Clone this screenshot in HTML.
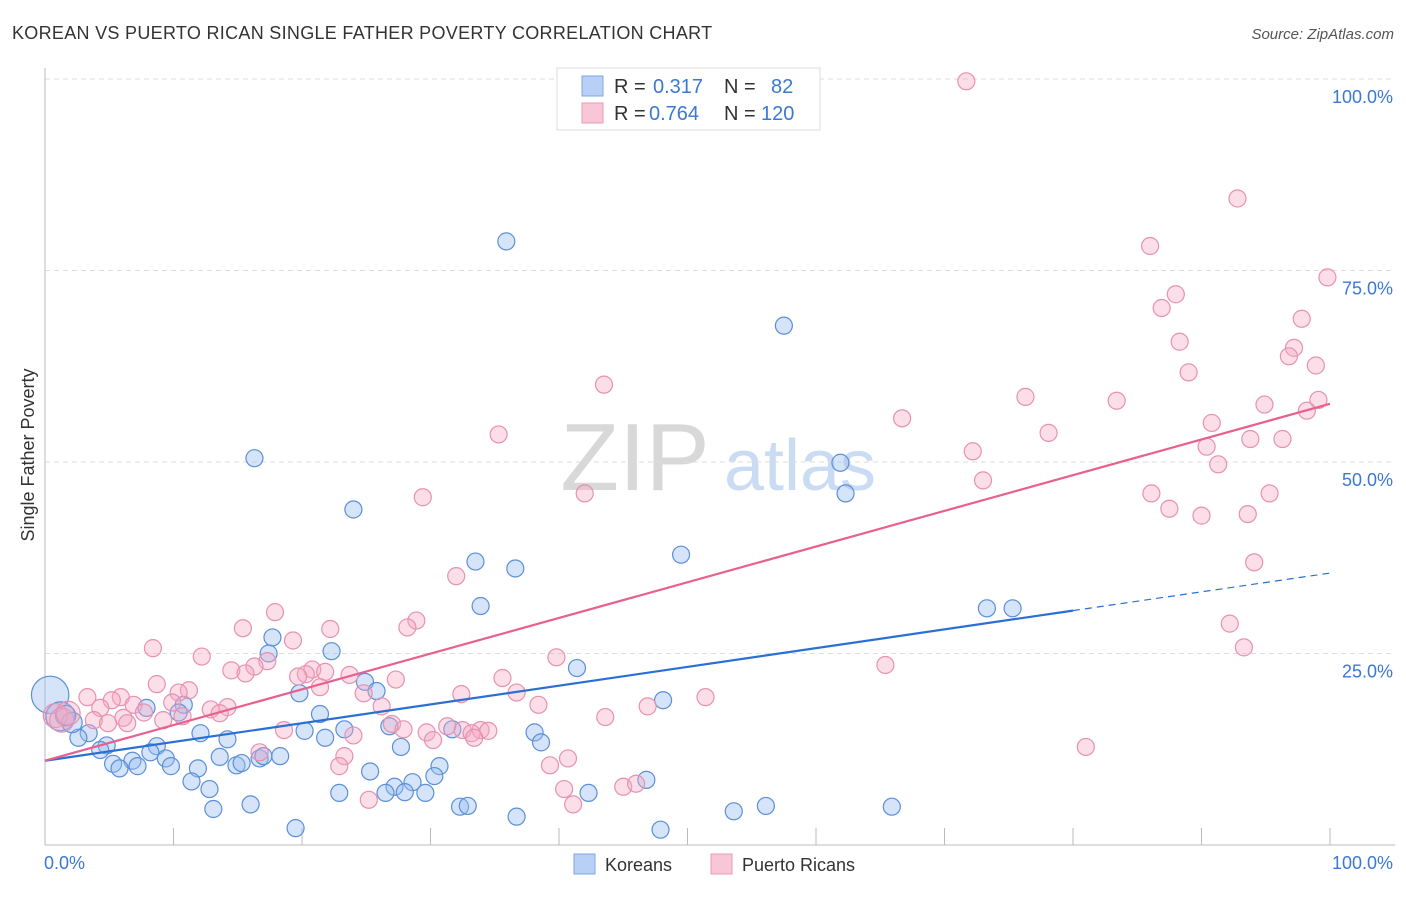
<!DOCTYPE html>
<html><head><meta charset="utf-8"><style>
body{margin:0;background:#fff;font-family:"Liberation Sans",sans-serif;}
svg text{font-family:"Liberation Sans",sans-serif;}
</style></head><body>
<svg id="chart" width="1406" height="892" xmlns="http://www.w3.org/2000/svg">
<text x="12" y="39" font-size="18" fill="#333" letter-spacing="0.3">KOREAN VS PUERTO RICAN SINGLE FATHER POVERTY CORRELATION CHART</text>
<text x="1394" y="39" font-size="15" fill="#555" font-style="italic" text-anchor="end">Source: ZipAtlas.com</text>
<g>
<text x="635" y="490" font-size="96" fill="#d8d8d8" font-family="Liberation Serif" text-anchor="middle">ZIP</text>
<text x="800" y="490" font-size="72" fill="#c9dcf3" text-anchor="middle">atlas</text>
</g>
<g id="grid"></g>
<g id="axes"></g>
<text transform="translate(34,455) rotate(-90)" font-size="18" fill="#333" text-anchor="middle">Single Father Poverty</text>
<g id="pts"></g>
<g id="lines"></g>
<g>
<rect x="557" y="68" width="263" height="62" fill="#fff" stroke="#ddd"/>
<rect x="582" y="76" width="21" height="20" fill="#b8d0f5" stroke="#7ea6e3"/>
<rect x="582" y="103" width="21" height="20" fill="#f8c6d6" stroke="#eb9ab5"/>
<text x="614" y="93" font-size="20" fill="#333">R = </text><text x="653" y="93" font-size="20" fill="#3a78d4">0.317</text>
<text x="724" y="93" font-size="20" fill="#333">N = </text><text x="771" y="93" font-size="20" fill="#3a78d4">82</text>
<text x="614" y="120" font-size="20" fill="#333">R = </text><text x="649" y="120" font-size="20" fill="#3a78d4">0.764</text>
<text x="724" y="120" font-size="20" fill="#333">N = </text><text x="761" y="120" font-size="20" fill="#3a78d4">120</text>
</g>
<g>
<rect x="574" y="854" width="21" height="20" fill="#b8d0f5" stroke="#7ea6e3"/>
<text x="605" y="871" font-size="18" fill="#333">Koreans</text>
<rect x="711" y="854" width="21" height="20" fill="#f8c6d6" stroke="#eb9ab5"/>
<text x="742" y="871" font-size="18" fill="#333">Puerto Ricans</text>
</g>
</svg>
<script>
const yTicks=[25,50,75,100];
const yTickLabels=["25.0%","50.0%","75.0%","100.0%"];
const xTicks=[10,20,30,40,50,60,70,80,90,100];
const koreanX=[35.9,57.5,16.3,61.9,62.3,24.0,33.5,36.6,49.5,33.9,73.3,75.3,17.7,17.4,22.3,41.4,24.9,25.8,19.8,48.1,10.8,7.9,21.4,10.4,26.8,31.7,20.2,23.3,38.1,12.1,21.8,14.2,3.4,2.6,4.8,8.7,38.6,27.7,4.3,8.2,9.4,13.6,16.7,18.3,6.8,5.3,5.8,7.2,9.8,11.9,14.9,15.3,17.0,30.7,25.3,30.3,46.8,11.4,28.6,27.2,26.5,28.0,29.6,22.9,12.8,42.3,16.0,13.1,32.3,32.9,53.6,56.1,65.9,36.7,19.5,47.9,0.4,1.2,2.1,1.6];
const koreanY=[78.8,67.8,50.5,49.9,45.9,43.8,37.0,36.1,37.9,31.2,30.9,30.9,27.1,25.0,25.3,23.1,21.3,20.1,19.8,18.9,18.3,17.9,17.1,17.3,15.5,15.1,14.9,15.1,14.7,14.6,14.0,13.8,14.6,14.0,13.0,12.9,13.4,12.8,12.4,12.1,11.3,11.5,11.3,11.6,11.0,10.6,10.0,10.3,10.3,10.0,10.4,10.7,11.6,10.3,9.6,9.0,8.5,8.3,8.2,7.6,6.8,6.9,6.8,6.8,7.3,6.8,5.3,4.7,5.0,5.1,4.4,5.1,5.0,3.7,2.2,2.0,19.6,16.8,16.0,16.9];
const koreanSize=[1,1,1,1,1,1,1,1,1,1,1,1,1,1,1,1,1,1,1,1,1,1,1,1,1,1,1,1,1,1,1,1,1,1,1,1,1,1,1,1,1,1,1,1,1,1,1,1,1,1,1,1,1,1,1,1,1,1,1,1,1,1,1,1,1,1,1,1,1,1,1,1,1,1,1,1,2.2,1.7,1.2,1.2];
const prX=[71.7,92.8,86.0,99.8,88.0,86.9,97.8,88.3,97.2,96.8,98.9,89.0,43.5,76.3,83.4,99.1,94.9,98.2,66.7,90.8,78.1,35.3,93.8,96.3,90.4,72.2,91.3,73.0,42.0,29.4,86.1,95.3,87.5,90.0,93.6,94.1,32.0,17.9,28.9,28.2,92.2,15.4,22.2,19.3,93.3,8.4,12.2,39.8,17.3,65.4,16.3,20.8,14.5,15.6,21.8,20.3,23.7,19.7,35.6,27.3,8.7,21.4,11.2,10.4,24.8,32.4,36.7,3.3,51.4,5.9,5.2,9.9,6.9,4.3,14.2,38.4,46.9,26.2,7.7,12.9,13.6,10.7,6.1,9.2,43.6,3.8,4.9,6.4,27.0,27.9,31.3,32.5,29.7,33.9,34.5,18.6,33.2,33.4,30.2,24.0,23.3,16.7,40.7,81.0,22.9,39.3,40.4,45.0,46.0,25.2,41.1,0.8,1.3,1.8];
const prY=[99.7,84.4,78.2,74.1,71.9,70.1,68.7,65.7,64.9,63.8,62.6,61.7,60.1,58.5,58.0,58.1,57.5,56.7,55.7,55.1,53.8,53.6,53.0,53.0,52.0,51.4,49.7,47.6,45.9,45.4,45.9,45.9,43.9,43.0,43.2,36.9,35.1,30.4,29.3,28.4,28.9,28.3,28.2,26.7,25.8,25.7,24.6,24.5,24.0,23.5,23.3,22.9,22.8,22.4,22.6,22.3,22.2,22.0,21.8,21.6,21.0,20.6,20.2,19.9,19.8,19.7,19.9,19.3,19.3,19.3,18.9,18.6,18.3,17.9,18.0,18.3,18.1,18.1,17.3,17.7,17.2,16.8,16.6,16.3,16.7,16.3,15.9,15.9,15.8,15.1,15.5,15.0,14.7,15.0,14.9,15.0,14.6,14.0,13.7,14.3,11.6,12.1,11.3,12.8,10.3,10.4,7.3,7.6,8.0,5.9,5.3,16.9,16.3,17.2];
const koreanFit=[11.0,0.245];
const prFit=[11.0,0.466];
const solidEnd=80;

const NS="http://www.w3.org/2000/svg";
const X0=45,X1=1330,Y0=845,Y100=79;
const sx=v=>X0+(X1-X0)*v/100;
const sy=v=>Y0-(Y0-Y100)*v/100;
function mk(tag,attrs,parent){const e=document.createElementNS(NS,tag);for(const k in attrs)e.setAttribute(k,attrs[k]);parent.appendChild(e);return e;}
const grid=document.getElementById('grid'),axes=document.getElementById('axes'),pts=document.getElementById('pts'),lines=document.getElementById('lines');
yTicks.forEach((t,i)=>{
  const l=mk('line',{x1:X0,x2:1395,y1:sy(t),y2:sy(t),stroke:'#ddd','stroke-dasharray':'5,4'},grid);
  
  
  const tx=mk('text',{x:1393,y:sy(t)+24,'font-size':18,fill:'#3a78d4','text-anchor':'end'},axes);
  tx.textContent=yTickLabels[i];
  
  
});
mk('line',{x1:X0,x2:X0,y1:68,y2:Y0,stroke:'#bbb'},axes);
mk('line',{x1:X0,x2:1395,y1:Y0,y2:Y0,stroke:'#bbb'},axes);
xTicks.forEach(t=>{
  const l=mk('line',{x1:sx(t),x2:sx(t),y1:828,y2:Y0,stroke:'#bbb'},axes);
  
  
});
const xl0=mk('text',{x:44,y:869,'font-size':18,fill:'#3a78d4'},axes);xl0.textContent='0.0%';


const xl1=mk('text',{x:1393,y:869,'font-size':18,fill:'#3a78d4','text-anchor':'end'},axes);xl1.textContent='100.0%';



koreanX.forEach((v,i)=>{
  const c=mk('circle',{cx:sx(v),cy:sy(koreanY[i]),r:8.5*koreanSize[i],fill:'rgba(150,188,240,0.4)',stroke:'#5b8fd9','stroke-width':1.2},pts);
  
  
});
prX.forEach((v,i)=>{
  const c=mk('circle',{cx:sx(v),cy:sy(prY[i]),r:i>=prX.length-3?12:8.5,fill:'rgba(244,168,194,0.38)',stroke:'#e891ae','stroke-width':1.2},pts);
  
  
});
const kl=mk('line',{x1:sx(0),y1:sy(koreanFit[0]),x2:sx(solidEnd),y2:sy(koreanFit[0]+koreanFit[1]*solidEnd),stroke:'#2a6fd6','stroke-width':2.2},lines);


const kd=mk('line',{x1:sx(solidEnd),y1:sy(koreanFit[0]+koreanFit[1]*solidEnd),x2:sx(100),y2:sy(koreanFit[0]+koreanFit[1]*100),stroke:'#2a6fd6','stroke-width':1.2,'stroke-dasharray':'7,5'},lines);


const pl=mk('line',{x1:sx(0),y1:sy(prFit[0]),x2:sx(100),y2:sy(prFit[0]+prFit[1]*100),stroke:'#e8608f','stroke-width':2.2},lines);


</script>
</body></html>
